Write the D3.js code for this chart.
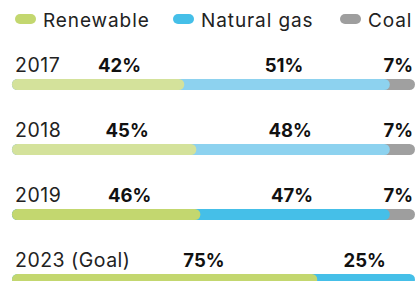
<!DOCTYPE html>
<html><head><meta charset="utf-8">
<script src="https://cdn.jsdelivr.net/npm/d3@7"></script>
<style>body{margin:0;background:#fff;overflow:hidden}svg{display:block}</style>
</head><body>
<script>
const years = ["2017", "2018", "2019", "2023 (Goal)"];
const series = ["Renewable", "Natural gas", "Coal"];
const renewable = [42, 45, 46, 75];
const naturalGas = [51, 48, 47, 25];
const coal = [7, 7, 7, 0];
const legendColors = ["#c3d76f", "#45bfe8", "#9e9e9e"];
const rowColors = [
  ["#d4e29b", "#8dd2ef", "#a0a0a0"],
  ["#d4e29b", "#8dd2ef", "#a0a0a0"],
  ["#c3d76f", "#45bfe8", "#9e9e9e"],
  ["#c3d76f", "#45bfe8", "#9e9e9e"]
];

const W = 415, H = 281;
const svg = d3.select("body").append("svg").attr("width", W).attr("height", H);
const font = "Inter, 'Noto Sans', sans-serif";

const x = d3.scaleLinear().domain([0, 100]).range([12, 415]);
const y = d3.scaleBand().domain(years).range([46, 306]).paddingInner(0);

// legend
const legendX = [15, 173, 340];
const lg = svg.append("g");
series.forEach((s, i) => {
  lg.append("rect").attr("x", legendX[i]).attr("y", 14).attr("width", 21).attr("height", 10)
    .attr("rx", 5).attr("fill", legendColors[i]);
  lg.append("text").attr("x", legendX[i] + 28).attr("y", 27).text(s)
    .attr("font-family", font).attr("font-size", 19).attr("letter-spacing", 0.9).attr("fill", "#222");
});

const data = years.map((yr, i) => ({year: yr, vals: [renewable[i], naturalGas[i], coal[i]], colors: rowColors[i]}));

const rows = svg.selectAll("g.row").data(data).join("g").attr("class", "row")
  .attr("transform", d => `translate(0,${y(d.year)})`);

rows.append("text").attr("x", 15).attr("y", 26).text(d => d.year)
  .attr("font-family", font).attr("font-size", 19.5).attr("letter-spacing", 0.5).attr("fill", "#222");

rows.each(function(d) {
  const g = d3.select(this);
  const cum = [];
  let c = 0;
  d.vals.forEach(v => { cum.push([c, c + v]); c += v; });
  const segs = d.vals.map((v, i) => ({v, i, a: cum[i][0], b: cum[i][1]})).filter(s => s.v > 0);
  const last = segs.length - 1;
  segs.slice().reverse().forEach(s => {
    const end = s.i === last ? x(100) : x(s.b) + 3;
    g.append("rect").attr("x", x(0)).attr("y", 33).attr("width", end - x(0)).attr("height", 11)
      .attr("rx", 5.5).attr("fill", d.colors[s.i]);
  });
  segs.forEach(s => {
    let cx;
    if (s.i === 0) cx = x(0) + 0.635 * (x(s.b) - x(0));
    else cx = (x(s.a) + x(s.b)) / 2;
    const t = g.append("text").attr("y", 26).text(s.v + "%")
      .attr("font-family", font).attr("font-size", 18.5).attr("font-weight", 700).attr("fill", "#111");
    if (s.i === 2) {
      t.attr("x", 413).attr("text-anchor", "end");
    } else {
      t.attr("x", cx).attr("text-anchor", "middle");
    }
  });
});
</script>
</body></html>
